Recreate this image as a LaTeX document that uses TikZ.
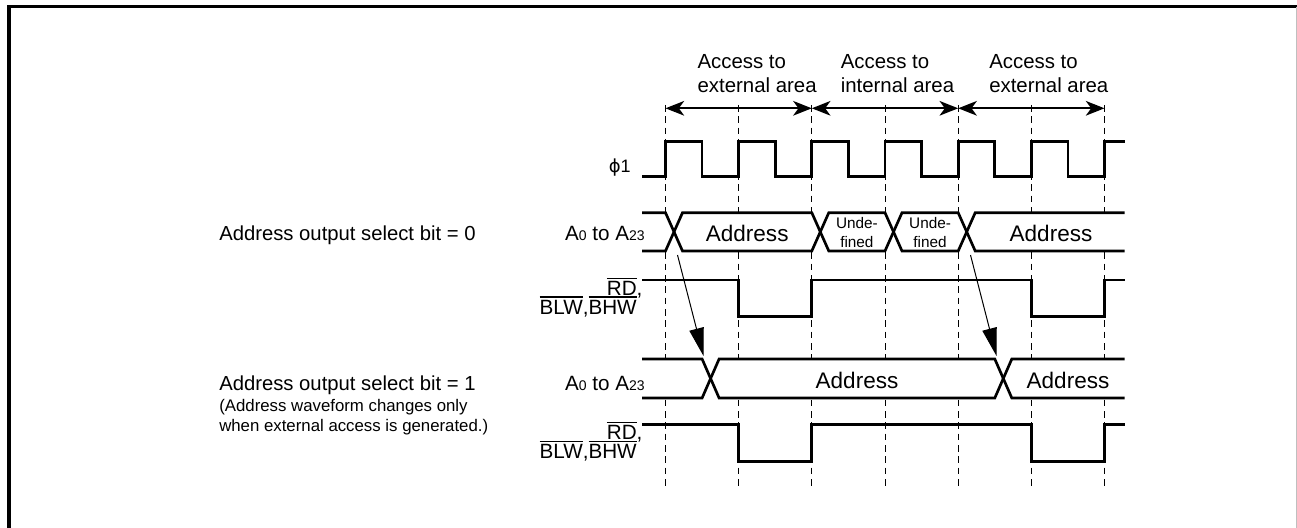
\documentclass[tikz,border=0pt]{standalone}
\usepackage{fontspec}
\setmainfont{Liberation Sans}
\newfontfamily\symfont{DejaVu Sans}
\usetikzlibrary{arrows.meta}
\newcommand{\ovl}[1]{\vbox{\hrule height 0.9pt\kern 1.6pt\hbox{#1}}}
\newcommand{\sm}[1]{{\fontsize{10.5}{12}\selectfont #1}}
\begin{document}
\begin{tikzpicture}[x=0.75pt,y=-0.75pt,
 sig/.style={line width=2pt},
 busbg/.style={fill=white},
 gridline/.style={line width=0.75pt, dash pattern=on 5pt off 3.5pt},
 span/.style={line width=1.4pt, {Stealth[length=14pt,width=11pt,inset=4pt]}-{Stealth[length=14pt,width=11pt,inset=4pt]}},
 delay/.style={line width=0.75pt, -{Triangle[length=21pt,width=11pt]}},
 toplbl/.style={font=\fontsize{15.3}{18}\selectfont, inner sep=0pt, anchor=base west},
 sidelbl/.style={font=\fontsize{15.2}{18}\selectfont, inner sep=0pt, anchor=base west},
 notelbl/.style={font=\fontsize{12.6}{15}\selectfont, inner sep=0pt, anchor=base west},
 siglbl/.style={font=\fontsize{15.5}{18}\selectfont, inner sep=0pt, anchor=base east},
 val/.style={font=\fontsize{16.9}{20}\selectfont, inner sep=0pt},
 undef/.style={font=\fontsize{11.5}{13.8}\selectfont, inner sep=0pt, align=center},
]
\useasboundingbox (0,0) rectangle (1297,528);
% frame
\draw[line width=2.5pt] (9,528) -- (9,6.7) -- (1297,6.7);
\draw[black!25, line width=0.75pt] (1296.5,6.7) -- (1296.5,528);
% grid
\foreach \i/\x in {0/665.5,1/738.7,2/811.8,3/885,4/958.2,5/1031.3,6/1104.5}{
  \coordinate (g\i) at (\x,105);
  \coordinate (h\i) at (\x,487);
  \draw[gridline] (g\i) -- (h\i);
}
% bus backgrounds hide the grid inside the buses
\fill[busbg] (642,212.7) rectangle (1124.5,251);
\fill[busbg] (642,359) rectangle (1124.5,398);
% span arrows
\coordinate (s0) at (665.5,108.3);
\coordinate (s1) at (811.8,108.3);
\coordinate (s2) at (958.2,108.3);
\coordinate (s3) at (1104.5,108.3);
\draw[span] (s0) -- (s1);
\draw[span] (s1) -- (s2);
\draw[span] (s2) -- (s3);
\node[toplbl] (t1a) at (697.3,68.3) {Access to};
\node[toplbl] (t1b) at (697.3,93) {external area};
\node[toplbl] (t2a) at (840.5,68.3) {Access to};
\node[toplbl] (t2b) at (840.5,93) {internal area};
\node[toplbl] (t3a) at (989,68.3) {Access to};
\node[toplbl] (t3b) at (989,93) {external area};
% clock
\node[font=\fontsize{13.5}{16}\selectfont, inner sep=0pt, anchor=east] (phi) at (631,168) {{\symfont ϕ}1};
\draw[sig] (642,176.5) -| (665.5,141.5) -| (702.1,176.5) -| (738.7,141.5) -| (775.2,176.5)
  -| (811.8,141.5) -| (848.4,176.5) -| (885,141.5) -| (921.6,176.5) -| (958.2,141.5)
  -| (994.8,176.5) -| (1031.3,141.5) -| (1067.9,176.5) -| (1104.5,141.5) -- (1124.5,141.5);
% row 1 address
\draw[sig] (642,212.7) -- (665.5,212.7) -- (682.5,251) -- (811.8,251) -- (828.8,212.7) -- (885,212.7)
  -- (902,251) -- (958.2,251) -- (975.2,212.7) -- (1124.5,212.7);
\draw[sig] (642,251) -- (665.5,251) -- (682.5,212.7) -- (811.8,212.7) -- (828.8,251) -- (885,251)
  -- (902,212.7) -- (958.2,212.7) -- (975.2,251) -- (1124.5,251);
\node[val] (v1) at (747.2,233) {Address};
\node[undef] (u1) at (856.9,232.5) {Unde-\\fined};
\node[undef] (u2) at (930.1,232.5) {Unde-\\fined};
\node[val] (v2) at (1051,233) {Address};
% row 1 strobes
\draw[sig] (642,280) -| (738.7,316.7) -| (811.8,280) -| (1031.3,316.7) -| (1104.5,280) -- (1124.5,280);
% row 2 address
\draw[sig] (642,359) -- (702.1,359) -- (719.1,398) -- (994.8,398) -- (1011.8,359) -- (1124.5,359);
\draw[sig] (642,398) -- (702.1,398) -- (719.1,359) -- (994.8,359) -- (1011.8,398) -- (1124.5,398);
\node[val] (v3) at (857,380) {Address};
\node[val] (v4) at (1068,380) {Address};
% row 2 strobes
\draw[sig] (642,424.3) -| (738.7,461.7) -| (811.8,424.3) -| (1031.3,461.7) -| (1104.5,424.3) -- (1124.5,424.3);
% delay arrows
\coordinate (p1) at (677.5,255);
\coordinate (q1) at (703.5,356);
\coordinate (p2) at (970.5,255);
\coordinate (q2) at (996.5,356);
\draw[delay] (p1) -- (q1);
\draw[delay] (p2) -- (q2);
% signal labels
\node[siglbl] (a1) at (645,240) {A\sm{0} to A\sm{23}};
\node[siglbl] (rd1) at (637,295.5) {\ovl{RD}\rlap{\smash{,}}};
\node[siglbl] (bw1) at (637,314) {\ovl{BLW},\ovl{BHW}};
\node[siglbl] (a2) at (645,390) {A\sm{0} to A\sm{23}};
\node[siglbl] (rd2) at (637,439.8) {\ovl{RD}\rlap{\smash{,}}};
\node[siglbl] (bw2) at (637,458.3) {\ovl{BLW},\ovl{BHW}};
% side labels
\node[sidelbl] (sel0) at (219,240) {Address output select bit = 0};
\node[sidelbl] (sel1) at (219,390) {Address output select bit = 1};
\node[notelbl] (n1) at (219,411) {(Address waveform changes only};
\node[notelbl] (n2) at (219,431.5) {when external access is generated.)};
\end{tikzpicture}
\end{document}
